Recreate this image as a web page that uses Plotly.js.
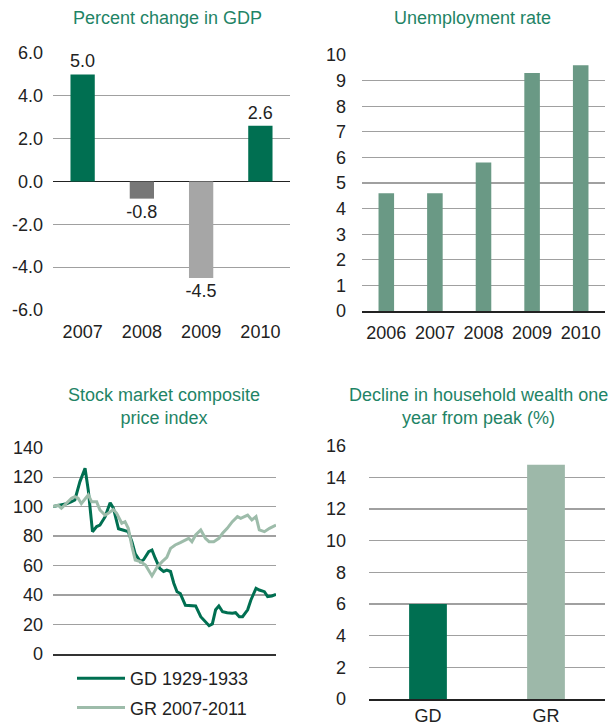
<!DOCTYPE html>
<html>
<head>
<meta charset="utf-8">
<script src="https://cdn.plot.ly/plotly-3.0.1.min.js"></script>
<style>html,body{margin:0;padding:0;background:#fff}#chart{width:614px;height:726px}</style>
</head>
<body>
<div id="chart"></div>
<script>
// ---- Data ----
const gdpYears = ['2007', '2008', '2009', '2010'];
const gdpChange = [5.0, -0.8, -4.5, 2.6];
const gdpTickVals = [-6, -4, -2, 0, 2, 4, 6];
const gdpTickText = ['-6.0', '-4.0', '-2.0', '0.0', '2.0', '4.0', '6.0'];

const unempYears = ['2006', '2007', '2008', '2009', '2010'];
const unempRate = [4.6, 4.6, 5.8, 9.3, 9.6];

const wealthLabels = ['GD', 'GR'];
const wealthDecline = [6.0, 14.8];

// Stock index, month since peak (0-48) and index level
const gdMonths = [0, 1.8, 2.9, 4.0, 4.7, 5.8, 6.9, 7.6, 8.5, 9.4, 10.1, 11.2, 12.3, 13.0, 14.1, 15.2, 16.2, 17.0, 17.7, 18.8, 19.5, 20.6, 21.3, 22.0, 23.0, 23.8, 24.5, 25.3, 26.0, 26.7, 27.4, 28.5, 29.6, 30.7, 31.8, 32.8, 33.6, 34.3, 35.0, 35.7, 36.5, 37.5, 38.6, 39.3, 40.1, 40.8, 41.9, 42.6, 43.7, 44.4, 45.5, 46.2, 47.1, 48];
const gdIndex = [100, 101, 102, 103.4, 104.5, 117, 126, 111, 83, 86.5, 87.5, 93, 102.7, 99, 85, 84, 83, 76, 68, 62.7, 64, 69.5, 70.6, 65, 58, 56, 57, 56, 48, 42.3, 41, 33, 32.6, 32.6, 25.3, 22, 19.2, 20.4, 30, 32.6, 28.7, 28, 27.6, 28, 25.3, 25.3, 30, 36.7, 44.6, 43.4, 42.3, 39, 39.4, 40.5];

const grMonths = [0, 1.1, 1.8, 2.9, 4.0, 4.7, 5.4, 6.1, 7.0, 7.6, 8.3, 9.4, 10.1, 11.2, 11.9, 13.0, 13.7, 14.8, 15.5, 16.2, 17.0, 17.7, 18.8, 19.9, 21.3, 22.4, 23.5, 24.5, 25.3, 26.3, 27.4, 28.5, 29.2, 29.9, 30.7, 31.8, 32.8, 33.6, 34.6, 35.7, 36.5, 37.5, 38.6, 39.7, 40.4, 41.9, 42.8, 43.7, 44.4, 45.5, 46.6, 48];
const grIndex = [100, 101, 98.9, 102, 105.7, 106.8, 105.7, 102, 105.7, 108, 103.4, 103.4, 97.7, 94.3, 95.5, 98, 95.5, 88.7, 89.8, 85.3, 72.9, 63.8, 62.7, 60.4, 53, 59, 62.7, 65.6, 71.7, 74, 75.6, 77.4, 78.5, 76.2, 80.8, 84.2, 78.5, 76.2, 76.2, 78.5, 81.9, 85.3, 89.8, 93.2, 92, 94.3, 91, 93.2, 84.2, 83, 85.3, 87.5];

// ---- Styles ----
const FONT = 'Liberation Sans, Arial, Helvetica, sans-serif';
const DARK_GREEN = '#006f51';
const gdpColors = [DARK_GREEN, '#777777', '#a6a6a6', DARK_GREEN];
const UNEMP_COLOR = '#6a9985';
const wealthColors = [DARK_GREEN, '#9db8a9'];
const GR_LINE = '#9dbcaa';
const TITLE_COLOR = '#1f8466';
const GRID = '#a0a0a0';
const TICK = '#222222';

const W = 614, H = 726;
const xd = (l, r) => [l / W, r / W];
const yd = (top, bottom) => [(H - bottom) / H, (H - top) / H];

const traces = [
  {type: 'bar', x: gdpYears, y: gdpChange, xaxis: 'x', yaxis: 'y', width: 0.41,
   marker: {color: gdpColors}, text: gdpChange.map(v => v.toFixed(1)), textposition: 'outside',
   constraintext: 'none', textfont: {family: FONT, size: 18, color: TICK}, cliponaxis: false,
   showlegend: false, hoverinfo: 'skip'},
  {type: 'bar', x: unempYears, y: unempRate, xaxis: 'x2', yaxis: 'y2', width: 0.32,
   marker: {color: UNEMP_COLOR}, showlegend: false, hoverinfo: 'skip'},
  {type: 'scatter', mode: 'lines', x: gdMonths, y: gdIndex, xaxis: 'x3', yaxis: 'y3',
   name: 'GD 1929-1933', legendgroup: 'a', line: {color: DARK_GREEN, width: 3}},
  {type: 'scatter', mode: 'lines', x: grMonths, y: grIndex, xaxis: 'x3', yaxis: 'y3',
   name: 'GR 2007-2011', legendgroup: 'b', line: {color: GR_LINE, width: 3}},
  {type: 'bar', x: wealthLabels, y: wealthDecline, xaxis: 'x4', yaxis: 'y4', width: 0.32,
   marker: {color: wealthColors}, showlegend: false, hoverinfo: 'skip'}
];

const tickFont = {family: FONT, size: 18, color: TICK};
const baseY = {showgrid: true, gridcolor: GRID, gridwidth: 1.3, ticks: '', tickfont: tickFont,
  zeroline: false, showline: false, fixedrange: true};
const baseX = {showgrid: false, ticks: '', tickfont: tickFont, zeroline: false, fixedrange: true,
  showline: true, linecolor: '#222', linewidth: 1.5};

const titleFont = {family: FONT, size: 18, color: TITLE_COLOR};
const ann = (text, x, y) => ({text, x: x / W, y: (H - y) / H, xref: 'paper', yref: 'paper',
  showarrow: false, font: titleFont, xanchor: 'center', yanchor: 'middle'});

const layout = {
  width: W, height: H, margin: {l: 0, r: 0, t: 0, b: 0},
  paper_bgcolor: '#fff', plot_bgcolor: 'rgba(0,0,0,0)',
  font: {family: FONT, color: TICK},
  showlegend: true,
  legend: {x: 72 / W, y: 0, xanchor: 'left', yanchor: 'bottom', itemwidth: 48,
    font: {family: FONT, size: 18, color: TICK}, traceorder: 'grouped', tracegroupgap: 3,
    bgcolor: 'rgba(0,0,0,0)'},
  xaxis: Object.assign({}, baseX, {domain: xd(53, 290), type: 'category', showline: false,
    anchor: 'y', ticklabelstandoff: 9}),
  yaxis: Object.assign({}, baseY, {domain: yd(53, 310), range: [-6, 6], tickvals: gdpTickVals,
    ticktext: gdpTickText, zeroline: true, zerolinecolor: '#222', zerolinewidth: 1.5, anchor: 'x',
    ticklabelstandoff: 9}),
  xaxis2: Object.assign({}, baseX, {domain: xd(362, 605), type: 'category', anchor: 'y2', ticklabelstandoff: 5}),
  yaxis2: Object.assign({}, baseY, {domain: yd(55, 311), range: [0, 10], dtick: 1, anchor: 'x2', ticklabelstandoff: 15}),
  xaxis3: Object.assign({}, baseX, {domain: xd(53, 276), range: [0, 48], showticklabels: false, anchor: 'y3',
    linecolor: '#333'}),
  yaxis3: Object.assign({}, baseY, {domain: yd(447.7, 654), range: [0, 140], dtick: 20, anchor: 'x3', ticklabelstandoff: 9}),
  xaxis4: Object.assign({}, baseX, {domain: xd(369, 605), type: 'category', anchor: 'y4', ticklabelstandoff: 0}),
  yaxis4: Object.assign({}, baseY, {domain: yd(445.7, 699), range: [0, 16], dtick: 2, anchor: 'x4', ticklabelstandoff: 22}),
  annotations: [
    ann('Percent change in GDP', 167, 18),
    ann('Unemployment rate', 472, 18),
    ann('Stock market composite<br>price index', 164, 406),
    ann('Decline in household wealth one<br>year from peak (%)', 478, 406)
  ]
};

Plotly.newPlot('chart', traces, layout, {staticPlot: true, displayModeBar: false});
</script>
</body>
</html>
